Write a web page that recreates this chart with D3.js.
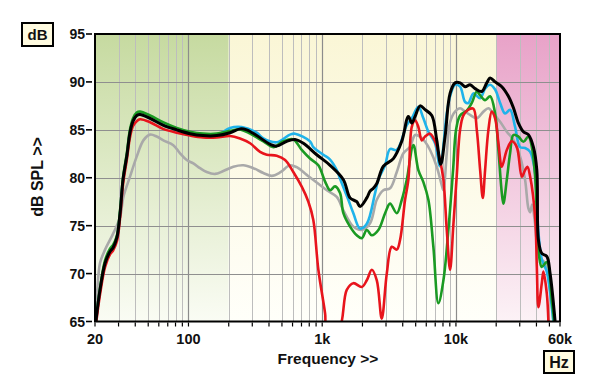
<!DOCTYPE html>
<html><head><meta charset="utf-8">
<script src="https://cdn.jsdelivr.net/npm/d3@7"></script>
<style>body{margin:0;background:#fff;} svg{display:block;font-family:"Liberation Sans",Arial,Helvetica,sans-serif;}</style>
</head><body><svg id="c" width="600" height="389"></svg>
<script>
// ---------- data ----------
const yTicks = [65, 70, 75, 80, 85, 90, 95];
const xTickValues = [20, 100, 1000, 10000, 60000];
const xTickLabels = ["20", "100", "1k", "10k", "60k"];
const bandEdges = [20, 200, 20000, 60000];

const lowF = [20.3, 21.8, 23.8, 25.9, 27.3, 29.2, 30.8, 32.4, 34.7, 36.5, 38.5, 41, 43.4, 51.6, 64.5, 81.7, 102.7, 128.5, 162.7];

const blackF = lowF.concat([204.5, 243, 272.7, 324, 407, 457, 543, 626, 723, 910, 1145, 1440, 1615, 1813, 1918, 2155, 2280, 2413, 2560, 2867, 3405, 3935, 4410, 4675, 4950, 5395, 5880, 6600, 7190, 7700, 8295, 9040, 9850, 10740, 11710, 12760, 13910, 15610, 17010, 18010, 19630, 22030, 24680, 26900, 29320, 31950, 34830, 37970, 40260, 41380, 43870, 47810, 50600, 55150]);
const blackDb = [65, 68.3, 71.1, 72.3, 72.7, 73.8, 76.3, 79.8, 82.4, 84.7, 85.9, 86.5, 86.6, 86.2, 85.5, 85.0, 84.6, 84.4, 84.4,
  84.7, 85.1, 85.0, 84.4, 83.5, 83.3, 83.8, 84.0, 83.6, 82.4, 81.3, 79.8, 77.9, 77.5, 77.0, 77.9, 78.6, 78.9, 79.4, 81.2, 82.0, 83.8, 86.4, 85.7, 86.4, 87.5, 87.1, 86.5, 83.9, 81.4, 84.3, 88.8, 89.9, 89.9, 89.5, 89.7, 89.3, 89.0, 89.9, 90.4, 90.0, 89.5, 88.5, 87.3, 85.7, 84.8, 84.5, 83.2, 80.8, 73.5, 72.1, 71.8, 70.0, 65];

const blueF = lowF.concat([204.5, 250, 324, 363, 457, 574, 626, 811, 858, 1020, 1145, 1285, 1360, 1568, 1710, 1918, 2155, 2485, 2630, 2953, 3217, 3611, 4290, 4675, 5236, 5709, 6222, 6980, 7600, 8540, 9040, 9850, 10740, 11710, 12390, 13510, 15170, 16520, 18010, 19630, 21400, 23320, 25400, 27700, 30200, 32900, 35900, 39100, 41000, 43870, 47810, 50600, 53550]);
const blueDb = [65, 68.3, 71.1, 72.3, 72.7, 73.8, 76.3, 79.8, 82.4, 84.7, 85.9, 86.5, 86.6, 86.2, 85.5, 85.0, 84.6, 84.4, 84.4,
  85.2, 85.3, 84.7, 84.1, 83.7, 84.5, 84.6, 83.8, 83.2, 82.4, 81.9, 80.8, 79.9, 77.7, 76.3, 74.7, 75.2, 78.4, 79.8, 81.3, 83.0, 82.9, 85.5, 86.2, 87.4, 86.2, 84.8, 83.6, 81.2, 86.7, 88.5, 89.7, 89.5, 87.9, 87.8, 88.8, 88.3, 89.3, 89.7, 89.2, 87.8, 86.7, 87.1, 85.3, 83.2, 83.1, 82.7, 80.5, 75.0, 71.5, 70.2, 68.0, 65];

const greenF = lowF.concat([204.5, 243, 289, 363, 431, 512, 608, 703, 811, 936, 1051, 1145, 1248, 1360, 1440, 1615, 1813, 1976, 2155, 2349, 2630, 2953, 3217, 3611, 3936, 4290, 4808, 5236, 5709, 6222, 6780, 7390, 8060, 8780, 9520, 10020, 10740, 12060, 13140, 14320, 15170, 16520, 18010, 19630, 20780, 22030, 22640, 24010, 25400, 26900, 29320, 31950, 34830, 36930, 39100, 40800, 41880, 43870, 47810, 52120, 54240]);
const greenDb = [65, 68.5, 71.4, 72.6, 73.0, 74.0, 76.6, 80.0, 82.7, 85.0, 86.2, 86.8, 86.9, 86.5, 85.8, 85.2, 84.8, 84.6, 84.6,
  84.9, 85.05, 84.6, 83.8, 83.2, 83.8, 84.0, 82.9, 82.0, 81.3, 79.6, 78.7, 79.1, 78.4, 76.3, 74.9, 74.0, 73.7, 74.55, 74.0, 74.55, 76.3, 77.3, 76.3, 77.7, 79.8, 83.4, 80.8, 79.55, 77.7, 72.8, 66.9, 69.3, 74.55, 80.8, 85.0, 86.5, 87.0, 87.8, 89.0, 88.6, 88.1, 88.5, 86.7, 82.9, 78.4, 77.3, 79.8, 82.55, 84.46, 84.3, 83.76, 84.3, 83.24, 80.1, 74.0, 71.8, 70.7, 71.2, 67.2, 65];

const redF = lowF.concat([204.5, 243, 289, 343, 385, 457, 528, 608, 703, 788, 858, 936, 1051, 1087, 1320, 1526, 1710, 1976, 2155, 2349, 2560, 2788, 3040, 3313, 3611, 3820, 4165, 4410, 4675, 4950, 5236, 5555, 5880, 6405, 6980, 7600, 8060, 8540, 9040, 9570, 10150, 10740, 11370, 12390, 13510, 14320, 15170, 15880, 16520, 17490, 18540, 19630, 20780, 22030, 24010, 26170, 28520, 31080, 32900, 34240, 35900, 39100, 40260, 41380, 43870, 45100, 47810, 49150]);
const redDb = [64.6, 67.8, 70.7, 72.0, 72.4, 73.4, 75.8, 79.3, 82.0, 84.2, 85.4, 85.9, 86.1, 85.8, 85.1, 84.7, 84.4, 84.2, 84.2,
  84.36, 84.1, 83.6, 82.7, 82.4, 82.3, 81.85, 80.6, 79.07, 77.5, 75.6, 70.4, 65.85, 64.0, 64.0, 68.3, 69.0, 68.6, 69.3, 70.4, 69.3, 65.3, 70.0, 72.8, 72.5, 73.5, 77.7, 79.8, 85.3, 86.0, 85.3, 83.9, 84.3, 84.6, 83.8, 81.85, 79.8, 74.55, 70.4, 75.1, 80.3, 85.0, 86.5, 87.1, 87.2, 85.0, 80.8, 77.9, 80.8, 85.0, 86.9, 86.2, 83.6, 81.15, 82.9, 83.8, 83.2, 80.1, 80.8, 81.15, 80.1, 75.9, 70.7, 66.5, 69.0, 70.2, 67.9, 65];

const grayF = [20, 20.6, 21.8, 23.8, 27.4, 30.8, 32.6, 36.5, 41.0, 46.0, 51.6, 57.9, 64.9, 77.0, 86.5, 97, 108.7, 122, 136.9, 158, 182.2, 216.5, 257.2, 305.5, 363, 419.5, 484, 574, 645, 766, 910, 1082, 1285, 1440, 1710, 1976, 2280, 2560, 2867, 3217, 3611, 4046, 4540, 4950, 5395, 5880, 6405, 7190, 7840, 8060, 8540, 9040, 9850, 10740, 11710, 12760, 14320, 16050, 17490, 19060, 21400, 24010, 26900, 30200, 32900, 34830, 35900, 37120, 39100, 40800, 42610, 46420, 50600, 53550];
const grayDb = [66.5, 67.6, 71.1, 72.5, 74.2, 75.9, 78.0, 80.1, 82.2, 83.9, 84.5, 84.3, 83.9, 83.4, 82.55, 81.85, 81.5, 81.0, 80.6, 80.4, 80.7, 81.15, 81.3, 81.0, 80.5, 80.2, 80.55, 81.3, 81.1, 80.3, 79.5, 78.7, 78.0, 76.6, 74.9, 74.55, 75.25, 77.7, 78.7, 78.9, 80.6, 82.55, 83.24, 84.46, 84.3, 83.76, 82.9, 81.15, 79.2, 78.7, 82.55, 85.8, 86.9, 87.25, 86.9, 86.55, 86.2, 86.9, 87.25, 86.7, 85.85, 84.8, 83.94, 82.2, 79.76, 76.8, 76.4, 77.2, 75.1, 72.5, 71.6, 71.1, 68.3, 65];

// ---------- chart ----------
const svg = d3.select("#c");
const L = 95, R = 560, T = 34, B = 321.5;
const x = d3.scaleLog().domain([20, 60000]).range([L, R]);
const y = d3.scaleLinear().domain([65, 95]).range([B, T]);

const defs = svg.append("defs");
function grad(id, top, bottom) {
  const g = defs.append("linearGradient").attr("id", id).attr("x1", 0).attr("y1", 0).attr("x2", 0).attr("y2", 1);
  g.append("stop").attr("offset", "0%").attr("stop-color", top);
  g.append("stop").attr("offset", "100%").attr("stop-color", bottom);
}
grad("gGreen", "#c6daa0", "#fafcf4");
grad("gCream", "#faf6d6", "#fffffa");
grad("gPink", "#e8a2c8", "#fcf2f6");
const bandFills = ["url(#gGreen)", "url(#gCream)", "url(#gPink)"];
defs.append("clipPath").attr("id", "plotClip").append("rect")
  .attr("x", L).attr("y", T).attr("width", R - L).attr("height", B - T);

for (let i = 0; i < bandEdges.length - 1; i++) {
  svg.append("rect").attr("x", x(bandEdges[i])).attr("y", T)
    .attr("width", x(bandEdges[i + 1]) - x(bandEdges[i])).attr("height", B - T)
    .attr("fill", bandFills[i]);
}

// vertical grid
const minor = [];
[10, 100, 1000, 10000].forEach(d => { for (let m = 1; m <= 9; m++) { const f = m * d; if (f > 20 && f < 60000) minor.push(f); } });
svg.append("g").selectAll("line").data(minor).join("line")
  .attr("x1", d => Math.round(x(d)) + 0.5).attr("x2", d => Math.round(x(d)) + 0.5)
  .attr("y1", T).attr("y2", B)
  .attr("stroke", d => [100, 1000, 10000].includes(d) ? "#8c8c8c" : "#bdbdbd")
  .attr("stroke-width", d => [100, 1000, 10000].includes(d) ? 1.2 : 1);
// horizontal grid
svg.append("g").selectAll("line").data(yTicks.filter(v => v > 65 && v < 95)).join("line")
  .attr("x1", L).attr("x2", R)
  .attr("y1", d => Math.round(y(d)) + 0.5).attr("y2", d => Math.round(y(d)) + 0.5)
  .attr("stroke", "#8f8f8f").attr("stroke-width", 1);

// curves
const line = d3.line().x(d => x(d[0])).y(d => y(d[1])).curve(d3.curveCatmullRom.alpha(0.5));
const series = [
  { f: grayF, v: grayDb, c: "#a9a9a9", w: 2.6 },
  { f: blueF, v: blueDb, c: "#1fb3ea", w: 2.6 },
  { f: greenF, v: greenDb, c: "#1a9a22", w: 2.6 },
  { f: redF, v: redDb, c: "#e8141c", w: 2.6 },
  { f: blackF, v: blackDb, c: "#000000", w: 3 }
];
const cg = svg.append("g").attr("clip-path", "url(#plotClip)");
series.forEach(s => {
  cg.append("path").datum(s.f.map((f, i) => [f, s.v[i]]))
    .attr("d", line).attr("fill", "none").attr("stroke", s.c)
    .attr("stroke-width", s.w).attr("stroke-linejoin", "round").attr("stroke-linecap", "round");
});

// frame
svg.append("rect").attr("x", L).attr("y", T).attr("width", R - L).attr("height", B - T)
  .attr("fill", "none").attr("stroke", "#000").attr("stroke-width", 2);

// y axis ticks & labels
const yg = svg.append("g");
yTicks.forEach(v => {
  yg.append("line").attr("x1", 86).attr("x2", 92).attr("y1", y(v)).attr("y2", y(v))
    .attr("stroke", "#000").attr("stroke-width", 1.6);
  yg.append("text").attr("x", 85).attr("y", y(v) + 5).attr("text-anchor", "end")
    .attr("font-size", 14).attr("font-weight", "bold").attr("fill", "#111").text(v);
});
// x axis ticks & labels
const xt = [20].concat(minor).concat([60000]);
svg.append("g").selectAll("line").data(xt).join("line")
  .attr("x1", d => x(d)).attr("x2", d => x(d)).attr("y1", B + 1).attr("y2", B + 5)
  .attr("stroke", "#000").attr("stroke-width", 1.2);
xTickValues.forEach((v, i) => {
  svg.append("text").attr("x", x(v)).attr("y", 344).attr("text-anchor", "middle")
    .attr("font-size", 14.5).attr("font-weight", "bold").attr("fill", "#111").text(xTickLabels[i]);
});

// axis titles
svg.append("text").attr("x", 328).attr("y", 364).attr("text-anchor", "middle")
  .attr("font-size", 15.5).attr("font-weight", "bold").attr("fill", "#111").text("Frequency >>");
svg.append("text").attr("transform", "translate(43,177) rotate(-90)").attr("text-anchor", "middle")
  .attr("font-size", 16).attr("font-weight", "bold").attr("fill", "#111").text("dB SPL >>");

// unit boxes
function box(bx, by, bw, bh, t, fs) {
  svg.append("rect").attr("x", bx).attr("y", by).attr("width", bw).attr("height", bh)
    .attr("fill", "#fffbe0").attr("stroke", "#000").attr("stroke-width", 2);
  svg.append("text").attr("x", bx + bw / 2).attr("y", by + bh / 2 + fs * 0.36).attr("text-anchor", "middle")
    .attr("font-size", fs).attr("font-weight", "bold").attr("fill", "#111").text(t);
}
box(22, 23, 31, 23, "dB", 15);
box(544, 351, 30, 22, "Hz", 16);
</script></body></html>
